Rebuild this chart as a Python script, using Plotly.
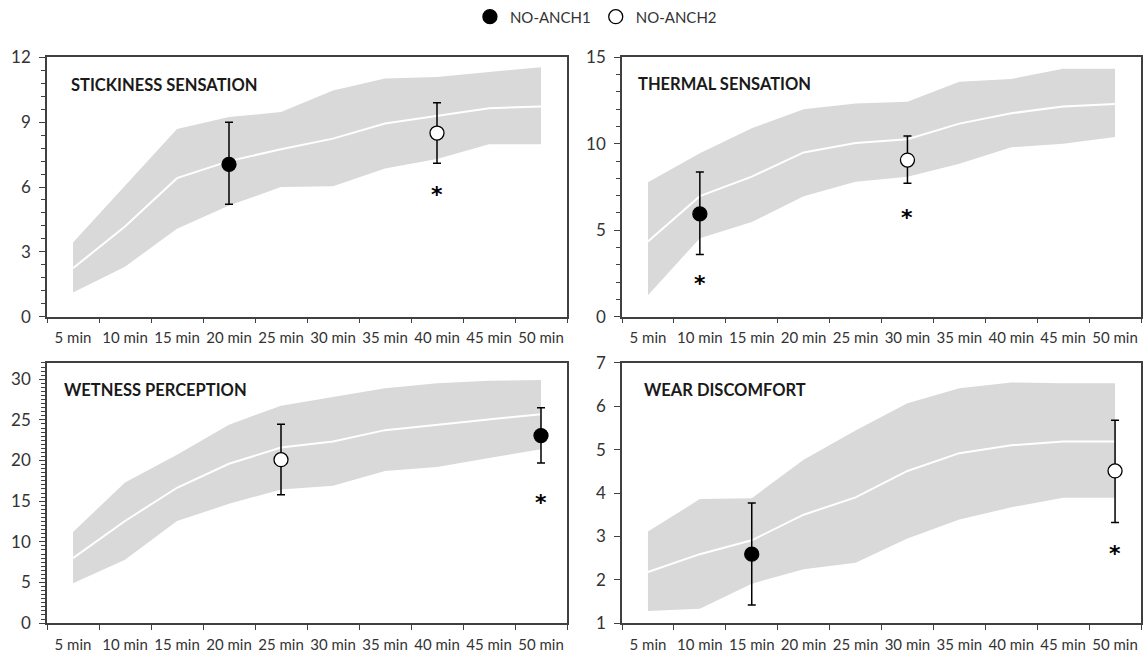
import plotly.graph_objects as go

categories = ["5 min", "10 min", "15 min", "20 min", "25 min", "30 min",
              "35 min", "40 min", "45 min", "50 min"]

# Stickiness sensation
stick_mean = [2.24, 4.17, 6.41, 7.2, 7.75, 8.24, 8.94, 9.29, 9.65, 9.73]
stick_upper = [3.43, 6.04, 8.69, 9.24, 9.47, 10.47, 11.03, 11.1, 11.33, 11.55]
stick_lower = [1.12, 2.31, 4.07, 5.14, 6.0, 6.04, 6.86, 7.3, 7.98, 7.98]
stick_anch1 = ["20 min", 7.05, 9.0, 5.2]
stick_anch2 = ["40 min", 8.5, 9.9, 7.1]
stick_star = [["40 min", 5.9]]

# Thermal sensation
therm_mean = [4.35, 6.97, 8.1, 9.5, 10.05, 10.27, 11.17, 11.77, 12.16, 12.3]
therm_upper = [7.77, 9.45, 10.9, 12.0, 12.33, 12.44, 13.6, 13.75, 14.35, 14.35]
therm_lower = [1.23, 4.54, 5.47, 6.97, 7.8, 8.1, 8.84, 9.8, 10.0, 10.4]
therm_anch1 = ["10 min", 5.94, 8.37, 3.6]
therm_anch2 = ["30 min", 9.06, 10.46, 7.72]
therm_star = [["10 min", 2.2], ["30 min", 6.0]]

# Wetness perception
wet_mean = [8.0, 12.56, 16.65, 19.6, 21.6, 22.35, 23.74, 24.4, 25.05, 25.7]
wet_upper = [11.2, 17.3, 20.7, 24.4, 26.75, 27.8, 28.9, 29.5, 29.8, 29.9]
wet_lower = [4.9, 7.8, 12.56, 14.67, 16.45, 16.9, 18.7, 19.2, 20.3, 21.4]
wet_anch1 = ["50 min", 23.07, 26.5, 19.7]
wet_anch2 = ["25 min", 20.1, 24.45, 15.8]
wet_star = [["50 min", 15.5]]

# Wear discomfort
wear_mean = [2.18, 2.59, 2.91, 3.5, 3.9, 4.51, 4.92, 5.1, 5.19, 5.19]
wear_upper = [3.11, 3.86, 3.88, 4.77, 5.44, 6.07, 6.42, 6.55, 6.53, 6.53]
wear_lower = [1.28, 1.33, 1.91, 2.24, 2.39, 2.95, 3.39, 3.67, 3.89, 3.89]
wear_anch1 = ["15 min", 2.59, 3.77, 1.42]
wear_anch2 = ["50 min", 4.51, 5.68, 3.32]
wear_star = [["50 min", 2.72]]

titles = ["STICKINESS SENSATION", "THERMAL SENSATION", "WETNESS PERCEPTION", "WEAR DISCOMFORT"]

W, H = 1146, 665
FONT = "Lato, 'Open Sans', sans-serif"
AXIS_COL = "#404040"
TEXT_COL = "#333333"
BAND_COL = "#d9d9d9"

panels = [
    dict(mean=stick_mean, up=stick_upper, lo=stick_lower, a1=stick_anch1, a2=stick_anch2,
         star=stick_star, title=titles[0], xd=(47, 567), yd=(47, 315), yr=[0, 12], dt=3, mdt=0.6,
         toff=22, ttop=28),
    dict(mean=therm_mean, up=therm_upper, lo=therm_lower, a1=therm_anch1, a2=therm_anch2,
         star=therm_star, title=titles[1], xd=(622, 1141), yd=(47, 315), yr=[0, 15], dt=5, mdt=1,
         toff=14, ttop=27),
    dict(mean=wet_mean, up=wet_upper, lo=wet_lower, a1=wet_anch1, a2=wet_anch2,
         star=wet_star, title=titles[2], xd=(47, 567), yd=(363, 632), yr=[0, 32], dt=5, mdt=0.5,
         toff=15, ttop=28),
    dict(mean=wear_mean, up=wear_upper, lo=wear_lower, a1=wear_anch1, a2=wear_anch2,
         star=wear_star, title=titles[3], xd=(622, 1141), yd=(363, 632), yr=[1, 7], dt=1, mdt=None,
         toff=20, ttop=28),
]

fig = go.Figure()
annotations = []

for i, p in enumerate(panels):
    n = i + 1
    xa = "x" if n == 1 else f"x{n}"
    ya = "y" if n == 1 else f"y{n}"
    # band
    fig.add_trace(go.Scatter(x=categories, y=p["lo"], mode="lines", line=dict(width=0, color=BAND_COL),
                             xaxis=xa, yaxis=ya, showlegend=False, hoverinfo="skip"))
    fig.add_trace(go.Scatter(x=categories, y=p["up"], mode="lines", line=dict(width=0, color=BAND_COL),
                             fill="tonexty", fillcolor=BAND_COL,
                             xaxis=xa, yaxis=ya, showlegend=False, hoverinfo="skip"))
    # mean line
    fig.add_trace(go.Scatter(x=categories, y=p["mean"], mode="lines", line=dict(width=2, color="white"),
                             xaxis=xa, yaxis=ya, showlegend=False, hoverinfo="skip"))
    # points
    for key, fillc, name in [("a1", "black", "NO-ANCH1"), ("a2", "white", "NO-ANCH2")]:
        cat, val, hi, lo = p[key]
        fig.add_trace(go.Scatter(
            x=[cat], y=[val], mode="markers",
            marker=dict(size=14, color=fillc, line=dict(color="black", width=1.3)),
            error_y=dict(type="data", symmetric=False, array=[hi - val], arrayminus=[val - lo],
                         color="black", thickness=1.5, width=4),
            xaxis=xa, yaxis=ya, name=name, showlegend=(i == 0)))
    for cat, sy in p["star"]:
        annotations.append(dict(x=cat, y=sy, xref=xa, yref=ya, text="<b>*</b>", showarrow=False,
                                font=dict(family="DejaVu Sans", size=22, color="black"), yshift=-5))
    annotations.append(dict(x=p["toff"] / (p["xd"][1] - p["xd"][0]),
                            y=1 - p["ttop"] / (p["yd"][1] - p["yd"][0]),
                            xref=f"{xa} domain", yref=f"{ya} domain", xanchor="left", yanchor="middle",
                            text=f"<b>{p['title']}</b>", showarrow=False,
                            font=dict(family=FONT, size=16.5, color="#1a1a1a")))

    xkey = "xaxis" if n == 1 else f"xaxis{n}"
    ykey = "yaxis" if n == 1 else f"yaxis{n}"
    yaxis = dict(domain=[1 - p["yd"][1] / H, 1 - p["yd"][0] / H], range=p["yr"], dtick=p["dt"],
                 tick0=p["yr"][0], anchor=xa, showgrid=False, zeroline=False, showline=True,
                 linecolor=AXIS_COL, linewidth=1.5, mirror=True, ticks="outside", ticklen=6,
                 tickwidth=1.3, tickcolor=AXIS_COL, ticklabelstandoff=5,
                 tickfont=dict(family=FONT, size=17, color=TEXT_COL), fixedrange=True)
    if p["mdt"]:
        yaxis["minor"] = dict(dtick=p["mdt"], tick0=p["yr"][0], ticks="outside", ticklen=4,
                              tickwidth=1.1, tickcolor=AXIS_COL, showgrid=False)
    fig.update_layout(**{
        xkey: dict(domain=[p["xd"][0] / W, p["xd"][1] / W], type="category",
                   categoryorder="array", categoryarray=categories,
                   range=[-0.5, 9.5], tickson="boundaries", anchor=ya, showgrid=False,
                   zeroline=False, showline=True, linecolor=AXIS_COL, linewidth=1.5, mirror=True,
                   ticks="outside", ticklen=5, tickwidth=1.3, tickcolor=AXIS_COL, tickangle=0,
                   ticklabelstandoff=7,
                   tickfont=dict(family=FONT, size=15, color=TEXT_COL), fixedrange=True),
        ykey: yaxis,
    })

fig.update_layout(
    width=W, height=H, margin=dict(l=0, r=0, t=0, b=0),
    paper_bgcolor="white", plot_bgcolor="white",
    showlegend=True,
    legend=dict(orientation="h", x=0.52, xanchor="center", y=1.018, yanchor="top",
                traceorder="normal",
                font=dict(family=FONT, size=15, color=TEXT_COL), itemwidth=30,
                tracegroupgap=0, bgcolor="rgba(0,0,0,0)"),
    annotations=annotations,
)

fig.write_html("out.html", config={"displayModeBar": False},
               post_script="document.body.style.margin='0px';document.body.style.overflow='hidden';")
